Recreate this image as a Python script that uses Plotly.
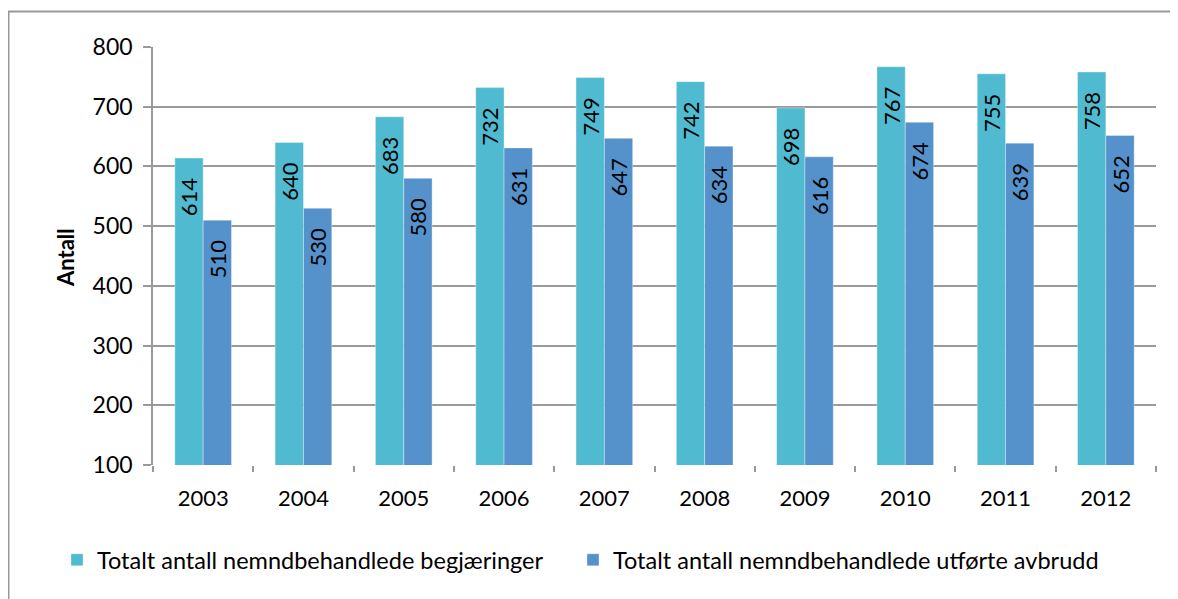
import plotly.graph_objects as go

years = ["2003", "2004", "2005", "2006", "2007", "2008", "2009", "2010", "2011", "2012"]
begjaeringer = [614, 640, 683, 732, 749, 742, 698, 767, 755, 758]
avbrudd = [510, 530, 580, 631, 647, 634, 616, 674, 639, 652]
names = ["Totalt antall nemndbehandlede begjæringer", "Totalt antall nemndbehandlede utførte avbrudd"]
y_ticks = [100, 200, 300, 400, 500, 600, 700, 800]

FONT = "Lato"
OFF = 8  # browser body margin
W, H = 1178 - OFF, 599 - OFF
L, R, T, B = 145, 22, 39, 134
pw, ph = W - L - R, H - T - B

def px_x(p):
    return (p - OFF - L) / pw

def px_y(p):
    return (H - B - (p - OFF)) / ph

fig = go.Figure()
for vals, name, col, lg in [(begjaeringer, names[0], "#4FBAD0", "legend"),
                            (avbrudd, names[1], "#5591CB", "legend2")]:
    fig.add_trace(go.Bar(
        x=years, y=vals, name=name, legend=lg,
        marker=dict(color=col, line=dict(color="rgba(255,255,255,0.35)", width=1)),
        text=vals,
        texttemplate="%{y}\u00a0\u00a0\u00a0",
        textposition="inside", insidetextanchor="end", textangle=-90,
        textfont=dict(family=FONT, size=22, color="black"),
    ))

leg_common = dict(orientation="h", xanchor="left", yanchor="middle",
                  font=dict(family=FONT, size=23.5), itemwidth=30, bgcolor="rgba(0,0,0,0)")

fig.update_layout(
    width=W, height=H,
    margin=dict(l=L, r=R, t=T, b=B, autoexpand=False),
    paper_bgcolor="white", plot_bgcolor="white",
    barmode="group", bargap=0.435, bargroupgap=0,
    font=dict(family=FONT, size=22, color="black"),
    uniformtext=dict(minsize=22, mode="show"),
    showlegend=True,
    legend=dict(x=px_x(57), y=px_y(560), **leg_common),
    legend2=dict(x=px_x(573), y=px_y(560), **leg_common),
    xaxis=dict(type="category", showline=False, ticks="outside", ticklen=6, tickcolor="#999999",
               tickwidth=1.5, tickson="boundaries", showgrid=False, ticklabelstandoff=18,
               tickfont=dict(family=FONT, size=22)),
    yaxis=dict(range=[100, 800], tickvals=y_ticks, showgrid=True, gridcolor="#9a9a9a", gridwidth=1.5,
               showline=True, linecolor="#9a9a9a", linewidth=1.5, ticks="outside", ticklen=8,
               tickcolor="#9a9a9a", tickwidth=1.5, zeroline=False, ticklabelstandoff=6,
               tickfont=dict(family=FONT, size=23)),
    annotations=[dict(text="<b>Antall</b>", x=px_x(65), y=px_y(258), xref="paper", yref="paper",
                      showarrow=False, textangle=-90, font=dict(family=FONT, size=22),
                      xanchor="center", yanchor="middle")],
    shapes=[dict(type="rect", xref="paper", yref="paper", x0=px_x(8.5), x1=px_x(1220), y0=px_y(640), y1=px_y(11.5),
                 line=dict(color="#999999", width=2), layer="below")],
)

fig.write_html("out.html")
